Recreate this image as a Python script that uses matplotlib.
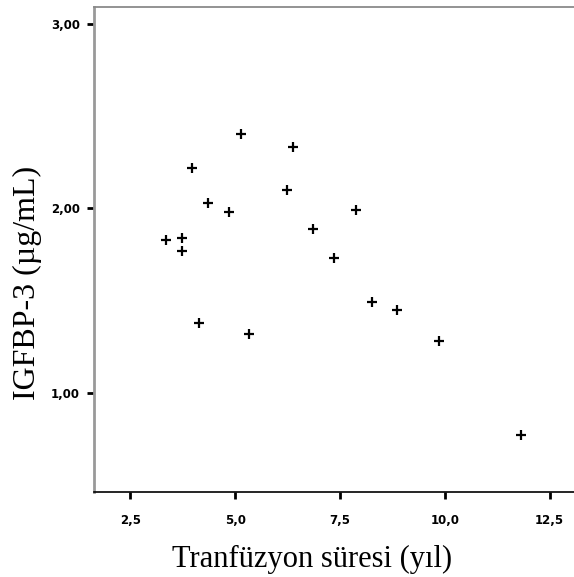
import matplotlib
matplotlib.use("Agg")
import matplotlib.pyplot as plt

# ====== DATA ======
sure_yil = [5.14, 6.38, 3.96, 6.24, 4.36, 4.85, 7.88, 6.86, 3.35, 3.72,
            3.72, 7.35, 8.27, 4.13, 5.33, 8.86, 9.87, 11.82]
igfbp3 = [2.40, 2.33, 2.22, 2.10, 2.03, 1.98, 1.99, 1.89, 1.83, 1.84,
          1.77, 1.73, 1.49, 1.38, 1.32, 1.45, 1.28, 0.77]

x_ticks = [2.5, 5.0, 7.5, 10.0, 12.5]
x_tick_labels = ["2,5", "5,0", "7,5", "10,0", "12,5"]
y_ticks = [1.0, 2.0, 3.0]
y_tick_labels = ["1,00", "2,00", "3,00"]

fig = plt.figure(figsize=(5.74, 5.77), dpi=100)
ax = fig.add_axes([94 / 574, 85 / 577, 1.0 - 94 / 574 + 0.01, 485 / 577])

ax.plot(sure_yil, igfbp3, linestyle="none", marker="+", color="black",
        markersize=7, markeredgewidth=1.6)

ax.set_xlim(1.63, 13.22)
ax.set_ylim(0.463, 3.09)

ax.set_xticks(x_ticks)
ax.set_xticklabels(x_tick_labels)
ax.set_yticks(y_ticks)
ax.set_yticklabels(y_tick_labels)

for lab in ax.get_xticklabels() + ax.get_yticklabels():
    lab.set_fontfamily("DejaVu Sans")
    lab.set_fontsize(8.5)
    lab.set_fontweight("bold")

ax.tick_params(direction="out", length=5, width=2, color="black")
ax.tick_params(axis="x", pad=11)
ax.tick_params(axis="y", pad=5)

# SPSS-like frame: gray left/top, black bottom
ax.spines["left"].set_color("#999999")
ax.spines["left"].set_linewidth(2)
ax.spines["top"].set_color("#8a8a8a")
ax.spines["top"].set_linewidth(1.3)
ax.spines["bottom"].set_color("black")
ax.spines["bottom"].set_linewidth(1.2)
ax.spines["right"].set_visible(False)

ax.set_xlabel("Tranfüzyon süresi (yıl)", fontfamily="Liberation Serif",
              fontsize=22, va="baseline")
ax.xaxis.set_label_coords(312 / 574, 1 - 567 / 577, transform=fig.transFigure)
ax.set_ylabel("IGFBP-3 (µg/mL)", fontfamily="Liberation Serif",
              fontsize=23, va="center")
ax.yaxis.set_label_coords(27 / 574, 1 - 283 / 577, transform=fig.transFigure)

fig.savefig("out.png", dpi=100)
